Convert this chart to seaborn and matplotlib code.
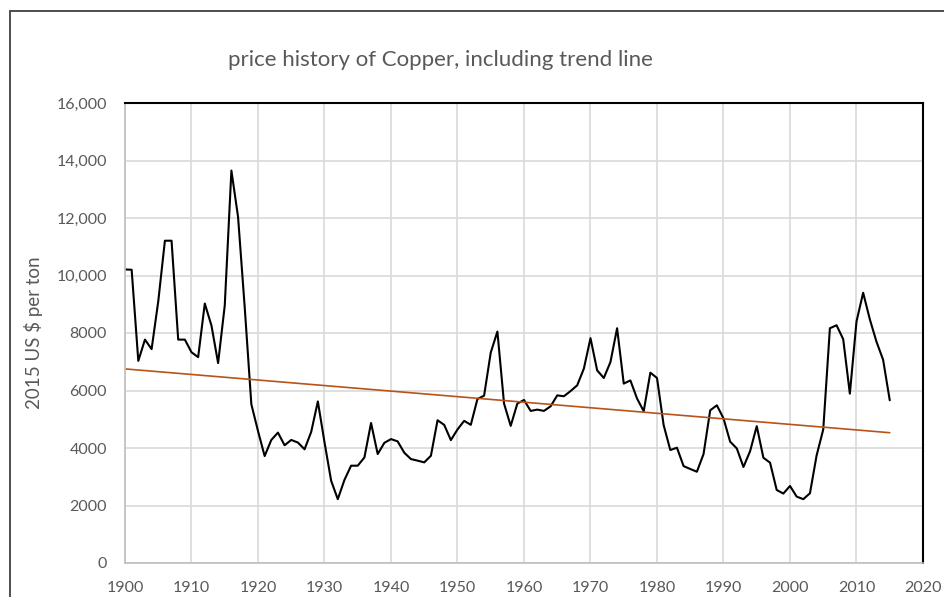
import numpy as np
import pandas as pd
import seaborn as sns
import matplotlib.pyplot as plt
from matplotlib.patches import Rectangle
from matplotlib.ticker import FixedLocator, FixedFormatter

# copper price, 2015 US $ per ton
years = list(range(1900, 2016))
price = [
    10210, 10200, 7030, 7770, 7440, 9100, 11210, 11210, 7770, 7770,   # 1900s
    7330, 7160, 9025, 8260, 6955, 8955, 13650, 12040, 8900, 5520,     # 1910s
    4590, 3720, 4280, 4535, 4095, 4280, 4190, 3955, 4560, 5620,       # 1920s
    4200, 2860, 2220, 2890, 3385, 3385, 3670, 4870, 3790, 4180,       # 1930s
    4310, 4230, 3835, 3615, 3560, 3500, 3730, 4965, 4805, 4275,       # 1940s
    4645, 4945, 4805, 5705, 5820, 7320, 8050, 5545, 4770, 5545,       # 1950s
    5670, 5290, 5335, 5290, 5450, 5830, 5800, 5980, 6180, 6760,       # 1960s
    7820, 6700, 6435, 6990, 8165, 6240, 6350, 5720, 5280, 6620,       # 1970s
    6435, 4795, 3930, 4010, 3370, 3270, 3175, 3790, 5310, 5485,       # 1980s
    5030, 4220, 3985, 3340, 3890, 4760, 3660, 3490, 2540, 2415,       # 1990s
    2680, 2310, 2220, 2425, 3740, 4645, 8165, 8270, 7785, 5890,       # 2000s
    8400, 9400, 8480, 7700, 7070, 5660,                               # 2010s
]

ytick_vals = [0, 2000, 4000, 6000, 8000, 10000, 12000, 14000, 16000]
ytick_labels = ["0", "2000", "4000", "6000", "8000", "10,000", "12,000", "14,000", "16,000"]
xtick_vals = list(range(1900, 2021, 10))

df = pd.DataFrame({"year": years, "price": price})

sns.set_style("white")
plt.rcParams["font.family"] = ["Lato", "DejaVu Sans"]

gray = "#595959"
fig = plt.figure(figsize=(9.44, 5.97), dpi=100)
ax = fig.add_axes([125 / 944, 1 - 563 / 597, (923 - 125) / 944, (563 - 103) / 597])

# outer chart frame (cut off at right and bottom like the screenshot)
fig.patches.append(Rectangle((10 / 944, -0.1), 1.2, 1.1 - 11 / 597,
                             transform=fig.transFigure, fill=False,
                             edgecolor="#404040", linewidth=1.3))

sns.lineplot(data=df, x="year", y="price", color="black", linewidth=1.5, ax=ax)
sns.regplot(data=df, x="year", y="price", scatter=False, ci=None, ax=ax,
            line_kws={"color": "#B8531A", "linewidth": 1.2})

ax.set_xlim(1900, 2020)
ax.set_ylim(0, 16000)
ax.xaxis.set_major_locator(FixedLocator(xtick_vals))
ax.yaxis.set_major_locator(FixedLocator(ytick_vals))
ax.yaxis.set_major_formatter(FixedFormatter(ytick_labels))
ax.grid(True, color="#D9D9D9", linewidth=1.2)
ax.set_axisbelow(True)
ax.tick_params(axis="both", length=0, labelsize=11.5, labelcolor=gray)
ax.tick_params(axis="x", pad=13)
ax.tick_params(axis="y", pad=13)

for side in ["left", "bottom"]:
    ax.spines[side].set_color("#BFBFBF")
    ax.spines[side].set_linewidth(1.2)
for side in ["top", "right"]:
    ax.spines[side].set_color("black")
    ax.spines[side].set_linewidth(1.5)

ax.set_xlabel("")
ax.set_ylabel("2015 US $ per ton", fontsize=13.5, color=gray)
ax.yaxis.set_label_coords((43 - 125) / 798, 0.5)
fig.text(440 / 944, 1 - 60 / 597, "price history of Copper, including trend line",
         ha="center", va="center", fontsize=16, color=gray)

fig.savefig("out.png", dpi=100)
